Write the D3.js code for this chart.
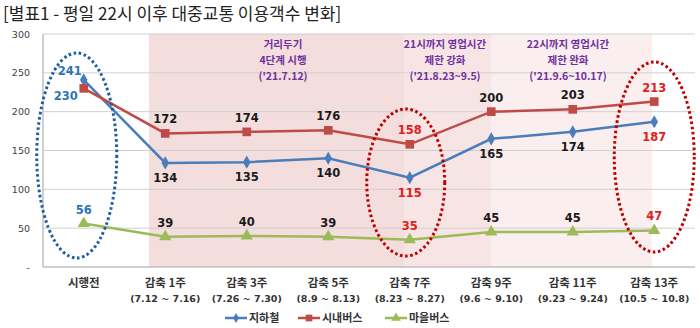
<!DOCTYPE html>
<html><head><meta charset="utf-8">
<script src="https://cdn.jsdelivr.net/npm/d3@7"></script>
<style>body{margin:0;background:#fff}svg{display:block}</style>
</head><body><svg id="c" width="700" height="328"></svg>
<script>
const categories = ["시행전","감축 1주","감축 3주","감축 5주","감축 7주","감축 9주","감축 11주","감축 13주"];
const periods = ["","(7.12 ~ 7.16)","(7.26 ~ 7.30)","(8.9 ~ 8.13)","(8.23 ~ 8.27)","(9.6 ~ 9.10)","(9.23 ~ 9.24)","(10.5 ~ 10.8)"];
const subway = [241,134,135,140,115,165,174,187];
const cityBus = [230,172,174,176,158,200,203,213];
const villageBus = [56,39,40,39,35,45,45,47];
const yTicks = [0,50,100,150,200,250,300];
const seriesNames = ["지하철","시내버스","마을버스"];
const title = "[별표1 - 평일 22시 이후 대중교통 이용객수 변화]";
const notes = [
  ["거리두기","4단계 시행","('21.7.12)"],
  ["21시까지 영업시간","제한 강화","('21.8.23~9.5)"],
  ["22시까지 영업시간","제한 완화","('21.9.6~10.17)"]
];

const svg = d3.select("#c");
const L = 43, R = 695, T = 34, B = 267;
const x = d3.scaleBand().domain(categories).range([L, R]);
const cx = c => x(c) + x.bandwidth()/2;
const y = d3.scaleLinear().domain([0,300]).range([B, T]);
const KR = "'Noto Sans CJK KR','Noto Sans',sans-serif";
const NUM = "'DejaVu Sans',Verdana,sans-serif";

// title
svg.append("text").attr("x",3).attr("y",20).attr("font-family",KR).attr("font-size",17)
  .attr("fill","#222").text(title);

// shaded backgrounds
const bg = [
  {x0: 149, x1: 404, c: "#f3dddd"},
  {x0: 404, x1: 491, c: "#f7e5e5"},
  {x0: 491, x1: 652, c: "#faeeee"}
];
svg.selectAll("rect.bg").data(bg).join("rect").attr("class","bg")
  .attr("x",d=>d.x0).attr("width",d=>d.x1-d.x0).attr("y",T).attr("height",B-T).attr("fill",d=>d.c);

// grid
svg.selectAll("line.grid").data(yTicks.filter(v=>v>0)).join("line").attr("class","grid")
  .attr("x1",L).attr("x2",R).attr("y1",d=>y(d)).attr("y2",d=>y(d))
  .attr("stroke","#d0d0d0").attr("stroke-width",1);
svg.append("line").attr("x1",L).attr("x2",L).attr("y1",T).attr("y2",B).attr("stroke","#bfbfbf").attr("stroke-width",1.5);
svg.append("line").attr("x1",L).attr("x2",R).attr("y1",B).attr("y2",B).attr("stroke","#bfbfbf").attr("stroke-width",1.5);

// y labels
svg.selectAll("text.yt").data(yTicks).join("text").attr("class","yt")
  .attr("x",30).attr("y",d=>y(d)+3.5).attr("text-anchor","end")
  .attr("font-family",NUM).attr("font-size",9.5).attr("fill","#404040")
  .text(d=>d===0?"-":d);

// x labels
svg.selectAll("text.xl").data(categories).join("text").attr("class","xl")
  .attr("x",d=>cx(d)).attr("y",287).attr("text-anchor","middle")
  .attr("font-family",KR).attr("font-size",11.5).attr("font-weight","bold").attr("fill","#333")
  .text(d=>d);
svg.selectAll("text.xp").data(categories).join("text").attr("class","xp")
  .attr("x",d=>cx(d)).attr("y",302).attr("text-anchor","middle")
  .attr("font-family",NUM).attr("font-size",9.5).attr("font-weight","bold").attr("fill","#333")
  .text((d,i)=>periods[i]);

// annotations
const noteCenters = [283, 445, 568];
notes.forEach((n,i)=>{
  n.forEach((t,j)=>{
    svg.append("text").attr("x",noteCenters[i]).attr("y",[48,64,80][j]).attr("text-anchor","middle")
      .attr("font-family",KR).attr("font-size",10.5).attr("font-weight","bold").attr("fill","#7030a0")
      .text(t);
  });
});

// series
const series = [
  {name:seriesNames[0], vals:subway, color:"#4a7ebb", marker:d3.symbolDiamond, size:50, pos:"below"},
  {name:seriesNames[1], vals:cityBus, color:"#be4b48", marker:d3.symbolSquare, size:75, pos:"above"},
  {name:seriesNames[2], vals:villageBus, color:"#9bbb59", marker:d3.symbolTriangle, size:65, pos:"above"}
];
const line = d3.line().x((d,i)=>cx(categories[i])).y(d=>y(d));
series.forEach(s=>{
  svg.append("path").attr("d",line(s.vals)).attr("fill","none").attr("stroke",s.color).attr("stroke-width",2.5);
  svg.selectAll(null).data(s.vals).join("path")
    .attr("transform",(d,i)=>`translate(${cx(categories[i])},${y(d)})`)
    .attr("d",d3.symbol(s.marker,s.size)).attr("fill",s.color);
});

// ellipses
const ell = [
  {cat:0, dx:-7, cy:155.5, rx:40, ry:102.5, c:"#1f5f9f"},
  {cat:4, dx:-4, cy:182.5, rx:39, ry:73.5, c:"#c00000"},
  {cat:7, dx:0, cy:157, rx:40, ry:95, c:"#c00000"}
];
svg.selectAll("ellipse").data(ell).join("ellipse")
  .attr("cx",d=>cx(categories[d.cat])+d.dx).attr("cy",d=>d.cy).attr("rx",d=>d.rx).attr("ry",d=>d.ry)
  .attr("fill","none").attr("stroke",d=>d.c).attr("stroke-width",3).attr("stroke-dasharray","2.6,2.6");

// data labels
function labColor(i){ if(i===0) return "#2e75b6"; if(i===4||i===7) return "#e02020"; return "#1a1a1a"; }
series.forEach((s,si)=>{
  s.vals.forEach((v,i)=>{
    let lx = cx(categories[i]), ly;
    if(s.pos==="below") ly = y(v)+19; else ly = y(v)-10;
    if(i===0 && si===0){ lx -= 14; ly = y(v)-5; }
    if(i===0 && si===1){ lx -= 18; ly = y(v)+12; }
    svg.append("text").attr("x",lx).attr("y",ly).attr("text-anchor","middle")
      .attr("font-family",NUM).attr("font-size",11.5).attr("font-weight","bold").attr("fill",labColor(i))
      .text(v);
  });
});

// legend
const legX = [225, 298, 385];
series.forEach((s,i)=>{
  const g = svg.append("g").attr("transform",`translate(${legX[i]},318)`);
  g.append("line").attr("x1",0).attr("x2",22).attr("stroke",s.color).attr("stroke-width",2.5);
  g.append("path").attr("transform","translate(11,0)").attr("d",d3.symbol(s.marker,s.size*0.6)).attr("fill",s.color);
  g.append("text").attr("x",24).attr("y",4).attr("font-family",KR).attr("font-size",11).attr("font-weight","bold")
    .attr("fill","#333").text(s.name);
});
</script></body></html>
